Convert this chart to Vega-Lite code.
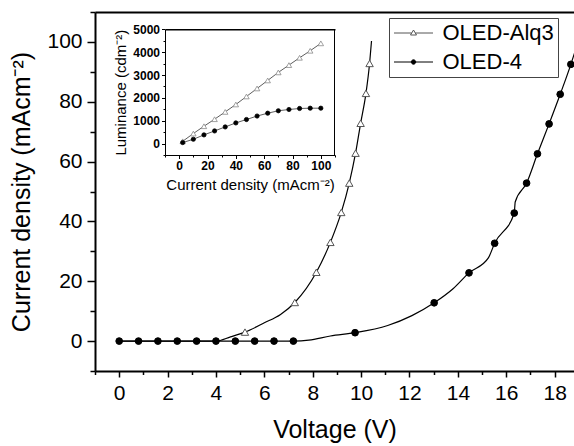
{
  "$schema": "https://vega.github.io/schema/vega-lite/v6.json",
  "width": 479,
  "height": 359,
  "autosize": {"type": "none"},
  "padding": {"left": 95, "top": 12, "right": 0, "bottom": 75},
  "background": "white",
  "config": {
    "view": {"stroke": null},
    "font": "Liberation Sans",
    "axis": {
      "grid": false,
      "domainColor": "black",
      "tickColor": "black",
      "labelColor": "black",
      "titleColor": "black",
      "labelFont": "Liberation Sans",
      "titleFont": "Liberation Sans",
      "titleFontWeight": "normal",
      "labelOverlap": false,
      "labelFlush": false
    },
    "legend": {"labelFont": "Liberation Sans"}
  },
  "datasets": {
    "jv_curve": [
      {"series": "OLED-Alq3", "V": 0, "J": 0},
      {"series": "OLED-Alq3", "V": 0.8, "J": 0},
      {"series": "OLED-Alq3", "V": 1.6, "J": 0},
      {"series": "OLED-Alq3", "V": 2.4, "J": 0},
      {"series": "OLED-Alq3", "V": 3.2, "J": 0},
      {"series": "OLED-Alq3", "V": 4.0, "J": 0},
      {"series": "OLED-Alq3", "V": 4.6, "J": 1.4},
      {"series": "OLED-Alq3", "V": 5.2, "J": 3.0},
      {"series": "OLED-Alq3", "V": 6.0, "J": 6.1},
      {"series": "OLED-Alq3", "V": 6.67, "J": 8.9},
      {"series": "OLED-Alq3", "V": 7.26, "J": 12.9},
      {"series": "OLED-Alq3", "V": 8.15, "J": 23},
      {"series": "OLED-Alq3", "V": 8.73, "J": 33},
      {"series": "OLED-Alq3", "V": 9.18, "J": 43},
      {"series": "OLED-Alq3", "V": 9.51, "J": 52.8},
      {"series": "OLED-Alq3", "V": 9.77, "J": 62.8},
      {"series": "OLED-Alq3", "V": 9.98, "J": 72.8},
      {"series": "OLED-Alq3", "V": 10.2, "J": 82.8},
      {"series": "OLED-Alq3", "V": 10.35, "J": 92.8},
      {"series": "OLED-Alq3", "V": 10.43, "J": 100.3},
      {"series": "OLED-4", "V": 0, "J": 0},
      {"series": "OLED-4", "V": 0.8, "J": 0},
      {"series": "OLED-4", "V": 1.6, "J": 0},
      {"series": "OLED-4", "V": 2.4, "J": 0},
      {"series": "OLED-4", "V": 3.2, "J": 0},
      {"series": "OLED-4", "V": 4.0, "J": 0},
      {"series": "OLED-4", "V": 4.8, "J": 0},
      {"series": "OLED-4", "V": 5.6, "J": 0},
      {"series": "OLED-4", "V": 6.4, "J": 0},
      {"series": "OLED-4", "V": 7.2, "J": 0},
      {"series": "OLED-4", "V": 7.84, "J": 0.3},
      {"series": "OLED-4", "V": 8.73, "J": 1.7},
      {"series": "OLED-4", "V": 9.75, "J": 2.8},
      {"series": "OLED-4", "V": 11.1, "J": 5.2},
      {"series": "OLED-4", "V": 12.1, "J": 8.5},
      {"series": "OLED-4", "V": 13.02, "J": 12.8},
      {"series": "OLED-4", "V": 13.8, "J": 17.5},
      {"series": "OLED-4", "V": 14.46, "J": 22.8},
      {"series": "OLED-4", "V": 15.26, "J": 27.8},
      {"series": "OLED-4", "V": 15.52, "J": 32.7},
      {"series": "OLED-4", "V": 16.33, "J": 42.8},
      {"series": "OLED-4", "V": 16.37, "J": 46.5},
      {"series": "OLED-4", "V": 16.84, "J": 52.8},
      {"series": "OLED-4", "V": 17.29, "J": 62.6},
      {"series": "OLED-4", "V": 17.77, "J": 72.6},
      {"series": "OLED-4", "V": 18.23, "J": 82.5},
      {"series": "OLED-4", "V": 18.67, "J": 92.5},
      {"series": "OLED-4", "V": 18.85, "J": 97}
    ],
    "jv_markers": [
      {"series": "OLED-Alq3", "V": 5.2, "J": 3.0},
      {"series": "OLED-Alq3", "V": 7.26, "J": 12.9},
      {"series": "OLED-Alq3", "V": 8.15, "J": 23},
      {"series": "OLED-Alq3", "V": 8.73, "J": 33},
      {"series": "OLED-Alq3", "V": 9.18, "J": 43},
      {"series": "OLED-Alq3", "V": 9.51, "J": 52.8},
      {"series": "OLED-Alq3", "V": 9.77, "J": 62.8},
      {"series": "OLED-Alq3", "V": 9.98, "J": 72.8},
      {"series": "OLED-Alq3", "V": 10.2, "J": 82.8},
      {"series": "OLED-Alq3", "V": 10.35, "J": 92.8},
      {"series": "OLED-4", "V": 0, "J": 0},
      {"series": "OLED-4", "V": 0.8, "J": 0},
      {"series": "OLED-4", "V": 1.6, "J": 0},
      {"series": "OLED-4", "V": 2.4, "J": 0},
      {"series": "OLED-4", "V": 3.2, "J": 0},
      {"series": "OLED-4", "V": 4.0, "J": 0},
      {"series": "OLED-4", "V": 4.8, "J": 0},
      {"series": "OLED-4", "V": 5.6, "J": 0},
      {"series": "OLED-4", "V": 6.4, "J": 0},
      {"series": "OLED-4", "V": 7.2, "J": 0},
      {"series": "OLED-4", "V": 9.75, "J": 2.8},
      {"series": "OLED-4", "V": 13.02, "J": 12.8},
      {"series": "OLED-4", "V": 14.46, "J": 22.8},
      {"series": "OLED-4", "V": 15.52, "J": 32.7},
      {"series": "OLED-4", "V": 16.33, "J": 42.8},
      {"series": "OLED-4", "V": 16.84, "J": 52.8},
      {"series": "OLED-4", "V": 17.29, "J": 62.6},
      {"series": "OLED-4", "V": 17.77, "J": 72.6},
      {"series": "OLED-4", "V": 18.23, "J": 82.5},
      {"series": "OLED-4", "V": 18.67, "J": 92.5}
    ],
    "lum": [
      {"series": "OLED-Alq3", "I": 2.5, "L": 100},
      {"series": "OLED-Alq3", "I": 10, "L": 439},
      {"series": "OLED-Alq3", "I": 17.5, "L": 759},
      {"series": "OLED-Alq3", "I": 25, "L": 1066},
      {"series": "OLED-Alq3", "I": 32.5, "L": 1386},
      {"series": "OLED-Alq3", "I": 40, "L": 1711},
      {"series": "OLED-Alq3", "I": 47.5, "L": 2061},
      {"series": "OLED-Alq3", "I": 55, "L": 2412},
      {"series": "OLED-Alq3", "I": 62.5, "L": 2763},
      {"series": "OLED-Alq3", "I": 70, "L": 3114},
      {"series": "OLED-Alq3", "I": 77.5, "L": 3434},
      {"series": "OLED-Alq3", "I": 85, "L": 3754},
      {"series": "OLED-Alq3", "I": 92.5, "L": 4061},
      {"series": "OLED-Alq3", "I": 100, "L": 4386},
      {"series": "OLED-4", "I": 2.5, "L": 44},
      {"series": "OLED-4", "I": 10, "L": 189},
      {"series": "OLED-4", "I": 17.5, "L": 380},
      {"series": "OLED-4", "I": 25, "L": 553},
      {"series": "OLED-4", "I": 32.5, "L": 728},
      {"series": "OLED-4", "I": 40, "L": 904},
      {"series": "OLED-4", "I": 47.5, "L": 1053},
      {"series": "OLED-4", "I": 55, "L": 1205},
      {"series": "OLED-4", "I": 62.5, "L": 1329},
      {"series": "OLED-4", "I": 70, "L": 1435},
      {"series": "OLED-4", "I": 77.5, "L": 1491},
      {"series": "OLED-4", "I": 85, "L": 1535},
      {"series": "OLED-4", "I": 92.5, "L": 1548},
      {"series": "OLED-4", "I": 100, "L": 1548}
    ]
  },
  "resolve": {
    "scale": {"x": "independent", "y": "independent", "shape": "independent", "fill": "independent", "stroke": "independent", "size": "independent"},
    "axis": {"x": "independent", "y": "independent"},
    "legend": {"shape": "independent", "fill": "independent", "stroke": "independent"}
  },
  "layer": [
    {
      "data": {"name": "jv_curve"},
      "mark": {"type": "line", "interpolate": "monotone", "color": "black", "strokeWidth": 1.2},
      "encoding": {
        "x": {
          "field": "V", "type": "quantitative",
          "scale": {"domain": [-1, 18.8], "nice": false, "zero": false},
          "axis": {
            "orient": "bottom", "title": "Voltage (V)",
            "values": [-1, 0, 1, 2, 3, 4, 5, 6, 7, 8, 9, 10, 11, 12, 13, 14, 15, 16, 17, 18],
            "labelExpr": "datum.value % 2 === 0 ? datum.label : ''",
            "tickSize": {"condition": {"test": "datum.value % 2 !== 0", "value": 3.5}, "value": 6},
            "tickWidth": 1.5, "domainWidth": 2,
            "labelFontSize": 21, "labelPadding": 5,
            "titleFontSize": 25, "titlePadding": 14
          }
        },
        "y": {
          "field": "J", "type": "quantitative",
          "scale": {"domain": [-10, 110], "nice": false, "zero": false},
          "axis": {
            "orient": "left", "title": "Current density (mAcm⁻²)",
            "values": [-10, 0, 10, 20, 30, 40, 50, 60, 70, 80, 90, 100, 110],
            "labelExpr": "datum.value % 20 === 0 ? datum.label : ''",
            "tickSize": {"condition": {"test": "datum.value % 20 !== 0", "value": 5}, "value": 8},
            "tickWidth": 1.5, "domainWidth": 2,
            "labelFontSize": 21, "labelPadding": 5,
            "titleFontSize": 25, "titlePadding": 12
          }
        },
        "detail": {"field": "series", "type": "nominal"}
      }
    },
    {
      "data": {"name": "jv_markers"},
      "mark": {"type": "point", "filled": true, "opacity": 1, "strokeWidth": 1},
      "encoding": {
        "x": {
          "field": "V", "type": "quantitative",
          "scale": {"domain": [-1, 18.8], "nice": false, "zero": false},
          "axis": {"orient": "top", "labels": false, "ticks": false, "title": null, "domainWidth": 2}
        },
        "y": {
          "field": "J", "type": "quantitative",
          "scale": {"domain": [-10, 110], "nice": false, "zero": false},
          "axis": null
        },
        "shape": {"field": "series", "type": "nominal", "scale": {"domain": ["OLED-Alq3", "OLED-4"], "range": ["triangle-up", "circle"]}, "legend": null},
        "fill": {"field": "series", "type": "nominal", "scale": {"domain": ["OLED-Alq3", "OLED-4"], "range": ["white", "black"]}, "legend": null},
        "stroke": {"field": "series", "type": "nominal", "scale": {"domain": ["OLED-Alq3", "OLED-4"], "range": ["#555555", "black"]}, "legend": null},
        "size": {"field": "series", "type": "nominal", "scale": {"domain": ["OLED-Alq3", "OLED-4"], "range": [55, 45]}, "legend": null}
      }
    },
    {
      "data": {"name": "jv_markers"},
      "transform": [{"filter": "false"}],
      "mark": {"type": "point", "filled": true, "opacity": 1, "strokeWidth": 1},
      "encoding": {
        "shape": {
          "field": "series", "type": "nominal",
          "scale": {"domain": ["OLED-Alq3", "OLED-4"], "range": ["M-1.95,0H-0.18M0.18,0H1.95M0,-0.3L0.3,0.2L-0.3,0.2Z", "M-1.95,0H1.95M0.22,0A0.22,0.22,0,1,1,-0.22,0A0.22,0.22,0,1,1,0.22,0Z"]},
          "legend": {
            "title": null, "orient": "none", "legendX": 294, "legendY": 6,
            "strokeColor": "#444444", "padding": 4,
            "symbolSize": 400, "symbolOffset": 9.5, "symbolStrokeWidth": 1,
            "labelFontSize": 22, "labelOffset": 18, "rowPadding": 7, "labelColor": "black"
          }
        },
        "fill": {
          "field": "series", "type": "nominal",
          "scale": {"domain": ["OLED-Alq3", "OLED-4"], "range": ["white", "black"]},
          "legend": {
            "title": null, "orient": "none", "legendX": 294, "legendY": 6,
            "strokeColor": "#444444", "padding": 4,
            "symbolSize": 400, "symbolOffset": 9.5, "symbolStrokeWidth": 1,
            "labelFontSize": 22, "labelOffset": 18, "rowPadding": 7, "labelColor": "black"
          }
        },
        "stroke": {
          "field": "series", "type": "nominal",
          "scale": {"domain": ["OLED-Alq3", "OLED-4"], "range": ["#555555", "black"]},
          "legend": {
            "title": null, "orient": "none", "legendX": 294, "legendY": 6,
            "strokeColor": "#444444", "padding": 4,
            "symbolSize": 400, "symbolOffset": 9.5, "symbolStrokeWidth": 1,
            "labelFontSize": 22, "labelOffset": 18, "rowPadding": 7, "labelColor": "black"
          }
        }
      }
    },
    {
      "data": {"name": "lum"},
      "mark": {"type": "line", "color": "#333333", "strokeWidth": 0.8},
      "encoding": {
        "x": {
          "field": "I", "type": "quantitative",
          "scale": {"domain": [-10, 110], "range": [70, 240], "nice": false, "zero": false},
          "axis": {
            "orient": "bottom", "offset": -216, "title": "Current density (mAcm⁻²)",
            "values": [-10, 0, 10, 20, 30, 40, 50, 60, 70, 80, 90, 100, 110],
            "labelExpr": "datum.value % 20 === 0 ? datum.label : ''",
            "tickSize": {"condition": {"test": "datum.value % 20 !== 0", "value": 2}, "value": 3.5},
            "tickWidth": 1, "domainWidth": 1,
            "labelFontSize": 12, "labelFontWeight": "bold", "labelPadding": 2,
            "titleFontSize": 15, "titlePadding": 6
          }
        },
        "y": {
          "field": "L", "type": "quantitative",
          "scale": {"domain": [-500, 5000], "range": [143, 17.3], "nice": false, "zero": false},
          "axis": {
            "orient": "left", "offset": -70, "title": "Luminance (cdm⁻²)", "format": "d",
            "values": [-500, 0, 500, 1000, 1500, 2000, 2500, 3000, 3500, 4000, 4500, 5000],
            "labelExpr": "datum.value % 1000 === 0 ? datum.label : ''",
            "tickSize": {"condition": {"test": "datum.value % 1000 !== 0", "value": 2}, "value": 3.5},
            "tickWidth": 1, "domainWidth": 1,
            "labelFontSize": 12, "labelFontWeight": "bold", "labelPadding": 2,
            "titleFontSize": 15, "titlePadding": 4
          }
        },
        "detail": {"field": "series", "type": "nominal"}
      }
    },
    {
      "data": {"name": "lum"},
      "mark": {"type": "point", "filled": true, "opacity": 1, "strokeWidth": 0.8},
      "encoding": {
        "x": {
          "field": "I", "type": "quantitative",
          "scale": {"domain": [-10, 110], "range": [70, 240], "nice": false, "zero": false},
          "axis": {"orient": "top", "offset": -17.3, "labels": false, "ticks": false, "title": null, "domainWidth": 1.5}
        },
        "y": {
          "field": "L", "type": "quantitative",
          "scale": {"domain": [-500, 5000], "range": [143, 17.3], "nice": false, "zero": false},
          "axis": {"orient": "right", "offset": -240, "labels": false, "ticks": false, "title": null, "domainWidth": 1}
        },
        "shape": {"field": "series", "type": "nominal", "scale": {"domain": ["OLED-Alq3", "OLED-4"], "range": ["triangle-up", "circle"]}, "legend": null},
        "fill": {"field": "series", "type": "nominal", "scale": {"domain": ["OLED-Alq3", "OLED-4"], "range": ["white", "black"]}, "legend": null},
        "stroke": {"field": "series", "type": "nominal", "scale": {"domain": ["OLED-Alq3", "OLED-4"], "range": ["#8a8a8a", "black"]}, "legend": null},
        "size": {"field": "series", "type": "nominal", "scale": {"domain": ["OLED-Alq3", "OLED-4"], "range": [30, 18]}, "legend": null}
      }
    }
  ]
}
